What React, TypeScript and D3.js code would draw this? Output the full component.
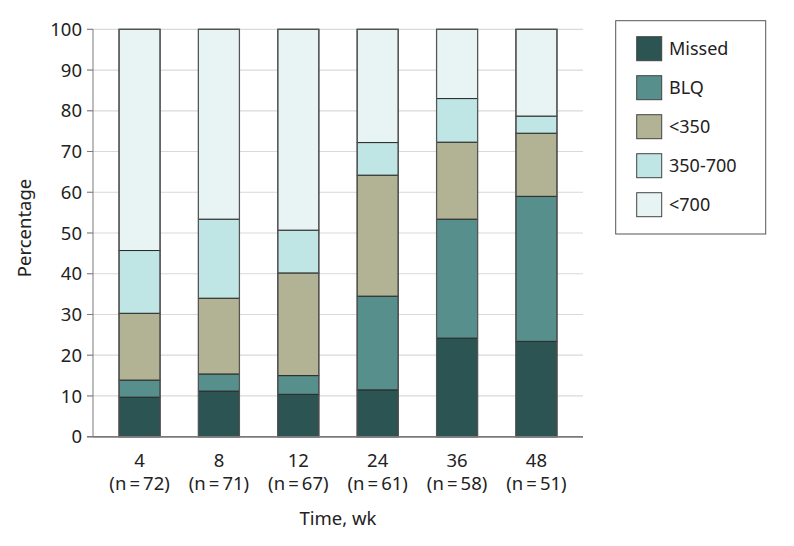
import React from "react";
import * as d3 from "d3";

const weeks = ["4", "8", "12", "24", "36", "48"];
const nLabels = ["(n\u2009=\u200972)", "(n\u2009=\u200971)", "(n\u2009=\u200967)", "(n\u2009=\u200961)", "(n\u2009=\u200958)", "(n\u2009=\u200951)"];
const seriesNames = ["Missed", "BLQ", "<350", "350-700", "<700"];
const missed = [9.7, 11.2, 10.4, 11.5, 24.2, 23.4];
const blq = [4.2, 4.2, 4.6, 23.0, 29.2, 35.6];
const lt350 = [16.4, 18.6, 25.2, 29.7, 18.9, 15.5];
const r350700 = [15.4, 19.4, 10.5, 8.0, 10.7, 4.2];
const lt700 = [54.3, 46.6, 49.3, 27.8, 17.0, 21.3];
const colors = ["#2b5453", "#578f8c", "#b1b394", "#c0e5e5", "#e8f3f3"];
const yTicks = [0, 10, 20, 30, 40, 50, 60, 70, 80, 90, 100];

const FONT = "'Noto Sans', sans-serif";

export default function App() {
  const W = 794, H = 546;
  const left = 93, right = 583, top = 29.3, bottom = 436.7;
  const series = [missed, blq, lt350, r350700, lt700];
  const rows = weeks.map((w, i) => {
    const r: any = { week: w };
    seriesNames.forEach((s, k) => (r[s] = series[k][i]));
    return r;
  });
  const stacked = d3.stack().keys(seriesNames)(rows);
  const x = d3.scaleBand().domain(weeks).range([left, right]).paddingInner(0.483).paddingOuter(0.328);
  const y = d3.scaleLinear().domain([0, 100]).range([bottom, top]);

  return (
    <svg width={W} height={H} style={{ position: "absolute", left: 0, top: 0, background: "#fff" }} fontFamily={FONT}>
      {yTicks.map((t) => (
        <line key={"g" + t} x1={left - 6} x2={right} y1={y(t)} y2={y(t)} stroke={t === 0 ? "#7a7a7a" : "#d9d9d9"} strokeWidth={t === 0 ? 1.5 : 1.2} />
      ))}
      {yTicks.map((t) => (
        <line key={"tk" + t} x1={left - 6} x2={left} y1={y(t)} y2={y(t)} stroke="#7a7a7a" strokeWidth={1} />
      ))}
      <line x1={left} x2={left} y1={top} y2={bottom} stroke="#7a7a7a" strokeWidth={1} />
      {yTicks.map((t) => (
        <text key={"yl" + t} x={left - 11} y={y(t)} dy="0.36em" textAnchor="end" fontSize={18.5} fill="#222">
          {t}
        </text>
      ))}
      <text transform={`translate(31,228) rotate(-90)`} textAnchor="middle" fontSize={18.5} fill="#222">
        Percentage
      </text>
      {stacked.map((layer, k) =>
        layer.map((d, i) => (
          <rect
            key={k + "-" + i}
            x={x(weeks[i])!}
            width={x.bandwidth()}
            y={y(d[1])}
            height={y(d[0]) - y(d[1])}
            fill={colors[k]}
            stroke="#2a2a2a"
            strokeWidth={1}
          />
        ))
      )}
      {weeks.map((w) => (
        <rect key={"o" + w} x={x(w)!} width={x.bandwidth()} y={y(100)} height={y(0) - y(100)} fill="none" stroke="#555" strokeWidth={1.2} />
      ))}
      <line x1={left} x2={right} y1={bottom} y2={bottom} stroke="#7a7a7a" strokeWidth={1.5} />
      {weeks.map((w, i) => (
        <g key={"xl" + w}>
          <text x={x(w)! + x.bandwidth() / 2} y={467} textAnchor="middle" fontSize={18.5} fill="#222">
            {w}
          </text>
          <text x={x(w)! + x.bandwidth() / 2} y={490} textAnchor="middle" fontSize={18.5} fill="#222">
            {nLabels[i]}
          </text>
        </g>
      ))}
      <text x={(left + right) / 2} y={525} textAnchor="middle" fontSize={18.5} fill="#222">
        Time, wk
      </text>
      <rect x={615.7} y={20.7} width={150} height={213.3} fill="#fff" stroke="#555" strokeWidth={1} />
      {seriesNames.map((s, k) => (
        <g key={"lg" + s}>
          <rect x={636.7} y={36.7 + k * 39} width={25} height={24} fill={colors[k]} stroke="#444" strokeWidth={1} />
          <text x={669} y={36.7 + k * 39 + 12} dy="0.36em" fontSize={18} fill="#222">
            {s}
          </text>
        </g>
      ))}
    </svg>
  );
}
